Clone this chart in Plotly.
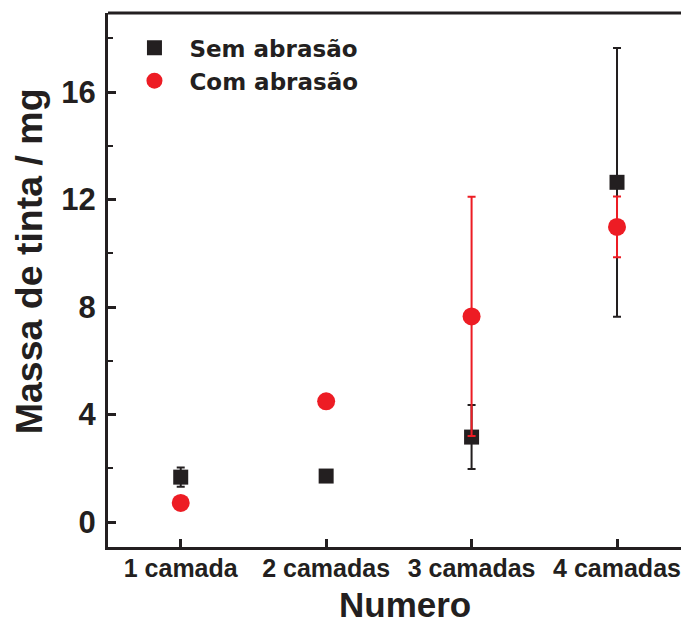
import plotly.graph_objects as go

# Layer counts on the x axis
categories = ["1 camada", "2 camadas", "3 camadas", "4 camadas"]

# Ink mass (mg) and standard deviations
sem_abrasao = [1.67, 1.71, 3.16, 12.64]
sem_abrasao_err = [0.36, 0.10, 1.19, 5.00]
com_abrasao = [0.71, 4.49, 7.65, 10.98]
com_abrasao_err = [0.05, 0.05, 4.45, 1.13]

y_ticks = [0, 4, 8, 12, 16]

BLACK = "#231f20"
RED = "#ed1c24"
AXIS_FONT = "Liberation Sans, Arial, sans-serif"
LEGEND_FONT = "DejaVu Sans, Verdana, sans-serif"

W, H = 681, 623
ML, MR, MT, MB = 108, 0, 13, 76

fig = go.Figure()

fig.add_trace(go.Scatter(
    x=categories, y=sem_abrasao, name="Sem abrasão", mode="markers",
    marker=dict(symbol="square", size=15, color=BLACK),
    error_y=dict(type="data", array=sem_abrasao_err, color=BLACK,
                 thickness=2, width=4),
))
fig.add_trace(go.Scatter(
    x=categories, y=com_abrasao, name="Com abrasão", mode="markers",
    marker=dict(symbol="circle", size=18, color=RED),
    error_y=dict(type="data", array=com_abrasao_err, color=RED,
                 thickness=2, width=4),
))

# top frame line (the right side falls outside the canvas)
fig.add_shape(type="line", xref="paper", yref="paper", x0=0, x1=1, y0=1, y1=1,
              line=dict(color=BLACK, width=3))

fig.add_annotation(text="Numero", xref="paper", yref="paper",
                   x=(405 - ML) / (W - ML - MR), y=-0.108,
                   xanchor="center", yanchor="middle", showarrow=False,
                   font=dict(family=AXIS_FONT, size=35, color=BLACK, weight="bold"))
fig.add_annotation(text="Massa de tinta / mg", xref="paper", yref="paper",
                   x=(29 - ML) / (W - ML - MR), y=0.535, textangle=-90,
                   xanchor="center", yanchor="middle", showarrow=False,
                   font=dict(family=AXIS_FONT, size=37.5, color=BLACK, weight="bold"))

fig.update_layout(
    width=W, height=H,
    margin=dict(l=ML, r=MR, t=MT, b=MB, pad=0),
    paper_bgcolor="white", plot_bgcolor="white",
    showlegend=True,
    legend=dict(x=0.02, y=0.975, xanchor="left", yanchor="top",
                bgcolor="rgba(0,0,0,0)", itemwidth=60,
                font=dict(family=LEGEND_FONT, size=23, color=BLACK, weight="bold")),
    xaxis=dict(
        type="category", range=[-0.5, 3.44],
        showline=True, linecolor=BLACK, linewidth=3,
        ticks="inside", ticklen=8, tickwidth=2.5, tickcolor=BLACK,
        showgrid=False, zeroline=False, ticklabelstandoff=-3,
        tickfont=dict(family=AXIS_FONT, size=25, color=BLACK, weight="bold"),
    ),
    yaxis=dict(
        range=[-0.93, 18.94],
        tickvals=y_ticks,
        showline=True, linecolor=BLACK, linewidth=3,
        ticks="inside", ticklen=8, tickwidth=2.5, tickcolor=BLACK,
        minor=dict(dtick=4, tick0=2, ticks="inside", ticklen=5, tickwidth=2,
                   tickcolor=BLACK, showgrid=False),
        showgrid=False, zeroline=False, ticklabelstandoff=3,
        tickfont=dict(family=AXIS_FONT, size=31, color=BLACK, weight="bold"),
    ),
)

fig.write_html("out.html")
